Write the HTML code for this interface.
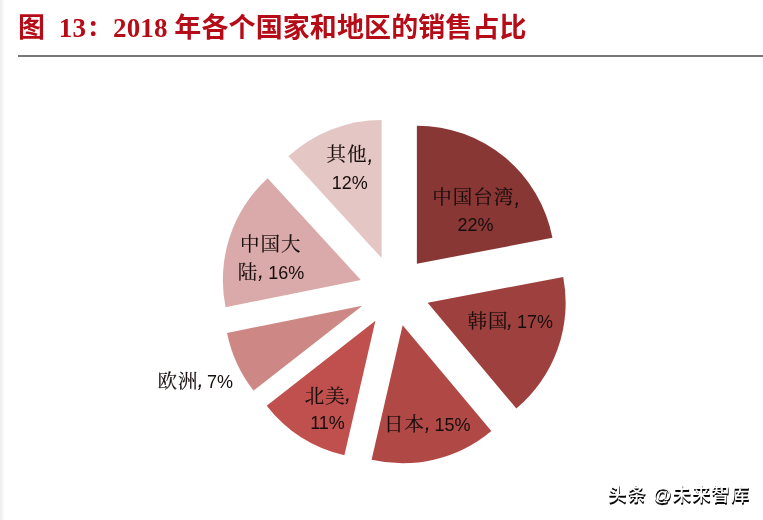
<!DOCTYPE html>
<html lang="zh"><head><meta charset="utf-8"><title>图 13</title>
<style>
html,body{margin:0;padding:0;background:#fff;}
body{width:763px;height:520px;overflow:hidden;position:relative;font-family:"Liberation Sans","Noto Sans CJK SC",sans-serif;}
.edge{position:absolute;left:0;top:0;width:5px;height:520px;background:linear-gradient(90deg,#ececec,#fff);}
h1{position:absolute;left:18px;top:10px;margin:0;font:bold 27px/36px "Liberation Serif","Noto Sans CJK SC",serif;color:#B60C18;white-space:pre;letter-spacing:0.1px;}
h1 .col{font-family:"Noto Serif CJK SC",serif;line-height:0;}
.rule{position:absolute;left:18px;right:0;top:55px;height:2px;background:#777;}
svg{position:absolute;left:0;top:0;}
svg text{fill:#160d0d;}
svg .c{font-family:"Noto Serif CJK SC","Noto Sans CJK SC",serif;font-size:19.5px;letter-spacing:1px;stroke:#160d0d;stroke-width:0.15px;}
svg .l{font-family:"Liberation Sans",sans-serif;font-size:18px;}
svg .m{font-family:"Liberation Sans",sans-serif;font-size:22px;font-style:italic;}
.wm{position:absolute;left:608px;top:481px;font:500 18.4px/28px "Liberation Sans","Noto Sans CJK SC",sans-serif;letter-spacing:1px;color:#fff;text-shadow:0.5px 1px 0 #000,0.5px 1.5px 0 #111;white-space:pre;}
</style></head><body>
<div class="edge"></div>
<h1>图  13<span class="col">：</span>2018 年各个国家和地区的销售占比</h1>
<div class="rule"></div>
<svg width="763" height="520" viewBox="0 0 763 520">
<path d="M416.90 263.70L416.90 125.70A138 138 0 0 1 552.46 237.84Z" fill="#893735"/>
<path d="M427.65 302.74L563.21 276.88A138 138 0 0 1 516.36 408.46Z" fill="#9E413E"/>
<path d="M402.64 325.22L491.35 430.94A138 138 0 0 1 371.60 459.69Z" fill="#B04946"/>
<path d="M375.43 320.67L344.39 455.13A138 138 0 0 1 266.69 405.63Z" fill="#C0504D"/>
<path d="M362.33 305.65L253.58 390.61A138 138 0 0 1 227.05 332.93Z" fill="#CD8785"/>
<path d="M360.84 279.96L225.56 307.24A138 138 0 0 1 267.61 178.22Z" fill="#D9AAA9"/>
<path d="M381.61 258.00L288.37 156.26A138 138 0 0 1 381.61 120.00Z" fill="#E4C6C5"/>
<text xml:space="preserve"><tspan class="c" x="432.3" y="203.9">中国台湾</tspan><tspan class="m" x="514.4" y="204.8">, </tspan><tspan class="l" x="457.6" y="230.7">22%</tspan></text>
<text xml:space="preserve"><tspan class="c" x="467.4" y="327.8">韩国</tspan><tspan class="m" x="507.1" y="326.5">, </tspan><tspan class="l" x="517.0" y="327.5">17%</tspan></text>
<text xml:space="preserve"><tspan class="c" x="384.0" y="430.9">日本</tspan><tspan class="m" x="424.8" y="429.8">, </tspan><tspan class="l" x="434.6" y="430.8">15%</tspan></text>
<text xml:space="preserve"><tspan class="c" x="304.7" y="402.9">北美</tspan><tspan class="m" x="344.9" y="401.4">, </tspan><tspan class="l" x="310.2" y="429.4">11%</tspan></text>
<text xml:space="preserve"><tspan class="c" x="157.4" y="388.0">欧洲</tspan><tspan class="m" x="197.6" y="387.2">, </tspan><tspan class="l" x="206.9" y="388.2">7%</tspan></text>
<text xml:space="preserve"><tspan class="c" x="239.9" y="251.2">中国大</tspan><tspan class="c" x="237.8" y="279.4">陆</tspan><tspan class="m" x="258.1" y="277.8">, </tspan><tspan class="l" x="268.2" y="278.8">16%</tspan></text>
<text xml:space="preserve"><tspan class="c" x="326.6" y="161.3">其他</tspan><tspan class="m" x="367.4" y="162.0">, </tspan><tspan class="l" x="331.7" y="188.5">12%</tspan></text>
</svg>
<div class="wm">头条 @未来智库</div>
</body></html>
